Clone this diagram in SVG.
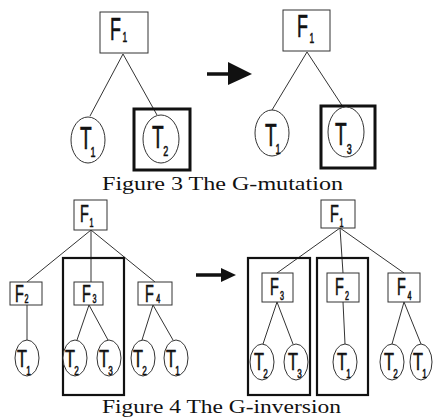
<svg xmlns="http://www.w3.org/2000/svg" width="435" height="419" viewBox="0 0 435 419">
<style>
.bg{fill:#fff}
.box{fill:#fff;stroke:#333;stroke-width:1}
.ell{fill:#fff;stroke:#333;stroke-width:1}
.bold{fill:none;stroke:#111;stroke-width:3}
.bold2{fill:none;stroke:#111;stroke-width:2.2}
.ln{stroke:#333;stroke-width:1;fill:none}
.arr{stroke:#111;stroke-width:3.5}
.lb{font-family:"Liberation Sans",Arial,sans-serif;fill:#111;stroke:#111;stroke-width:0.6}
.big{font-size:32px}
.sm{font-size:24px}
.s1{font-size:15px}
.s2{font-size:12px}
.cap{font-family:"Liberation Serif","Times New Roman",serif;font-size:18.5px;fill:#111}
</style>
<rect class="bg" width="435" height="419"/>
<g id="connectors">
<line class="ln" x1="123" y1="54" x2="90" y2="116"/>
<line class="ln" x1="123" y1="54" x2="157" y2="115"/>
<line class="ln" x1="307" y1="52" x2="272" y2="110"/>
<line class="ln" x1="307" y1="52" x2="343" y2="107"/>
<line class="ln" x1="91" y1="230" x2="27" y2="282"/>
<line class="ln" x1="91" y1="230" x2="91" y2="282"/>
<line class="ln" x1="91" y1="230" x2="155" y2="282"/>
<line class="ln" x1="27" y1="305" x2="27" y2="340"/>
<line class="ln" x1="89" y1="305" x2="77" y2="340"/>
<line class="ln" x1="89" y1="305" x2="108" y2="340"/>
<line class="ln" x1="153" y1="305" x2="142" y2="340"/>
<line class="ln" x1="153" y1="305" x2="173" y2="340"/>
<line class="ln" x1="340" y1="228" x2="277" y2="273"/>
<line class="ln" x1="340" y1="228" x2="343" y2="273"/>
<line class="ln" x1="340" y1="228" x2="404" y2="273"/>
<line class="ln" x1="277" y1="302" x2="263" y2="344"/>
<line class="ln" x1="277" y1="302" x2="293" y2="344"/>
<line class="ln" x1="343" y1="302" x2="345" y2="344"/>
<line class="ln" x1="404" y1="302" x2="392" y2="344"/>
<line class="ln" x1="404" y1="302" x2="421" y2="344"/>
<line class="arr" x1="207" y1="74" x2="232" y2="74"/>
<polygon points="228,62 252,74 228,85" fill="#111"/>
<line class="arr" x1="196" y1="275" x2="225" y2="275"/>
<polygon points="221,268 236,275 221,282" fill="#111"/>
</g>
<g id="fig3-left">
<g id="f3l-F1"><rect class="box" x="100" y="12" width="48" height="41"/>
<text class="lb big" transform="translate(110,40) scale(0.56,1)">F<tspan class="s1" dx="3" dy="2">1</tspan></text></g>
<g id="f3l-T1"><ellipse class="ell" cx="88" cy="140" rx="17" ry="23"/>
<text class="lb big" transform="translate(80,149) scale(0.6,1)">T<tspan class="s1" dx="-2" dy="8">1</tspan></text></g>
<g id="f3l-T2"><rect class="bold" x="134" y="109" width="56" height="61"/>
<ellipse class="ell" cx="161" cy="139" rx="18" ry="24"/>
<text class="lb big" transform="translate(152,148) scale(0.6,1)">T<tspan class="s1" dx="-1" dy="8">2</tspan></text></g>
</g>
<g id="fig3-right">
<g id="f3r-F1"><rect class="box" x="283" y="10" width="47" height="41"/>
<text class="lb big" transform="translate(297,37) scale(0.56,1)">F<tspan class="s1" dx="3" dy="6">1</tspan></text></g>
<g id="f3r-T1"><ellipse class="ell" cx="272" cy="133" rx="17" ry="23"/>
<text class="lb big" transform="translate(265,146) scale(0.6,1)">T<tspan class="s1" dx="-2" dy="8">1</tspan></text></g>
<g id="f3r-T3"><rect class="bold" x="321" y="106" width="54" height="62"/>
<ellipse class="ell" cx="346" cy="132" rx="18" ry="25"/>
<text class="lb big" transform="translate(335,145) scale(0.6,1)">T<tspan class="s1" dx="0" dy="9">3</tspan></text></g>
</g>
<text class="cap" x="102" y="190" textLength="241" lengthAdjust="spacingAndGlyphs">Figure 3 The G-mutation</text>
<g id="fig4-left">
<g id="f4l-F1"><rect class="box" x="74" y="200" width="33" height="30"/>
<text class="lb sm" transform="translate(80,222) scale(0.6,1)">F<tspan class="s2" dx="1" dy="5">1</tspan></text></g>
<g id="f4l-F2"><rect class="box" x="10" y="282" width="32" height="23"/>
<text class="lb sm" transform="translate(15,302) scale(0.6,1)">F<tspan class="s2" dx="1" dy="1">2</tspan></text></g>
<g id="f4l-F3bold"><rect class="bold2" x="63" y="258" width="61" height="137"/></g>
<g id="f4l-F3"><rect class="box" x="74" y="282" width="29" height="23"/>
<text class="lb sm" transform="translate(82,302) scale(0.6,1)">F<tspan class="s2" dx="3" dy="1">3</tspan></text></g>
<g id="f4l-F4"><rect class="box" x="138" y="282" width="34" height="23"/>
<text class="lb sm" transform="translate(145,302) scale(0.6,1)">F<tspan class="s2" dx="4" dy="1">4</tspan></text></g>
<g id="f4l-T1a"><ellipse class="ell" cx="27" cy="358" rx="12" ry="18"/>
<text class="lb sm" transform="translate(17,367) scale(0.68,1)">T<tspan class="s2" dx="-1" dy="8">1</tspan></text></g>
<g id="f4l-T2a"><ellipse class="ell" cx="75" cy="358" rx="12" ry="18"/>
<text class="lb sm" transform="translate(65,367) scale(0.68,1)">T<tspan class="s2" dx="-1" dy="8">2</tspan></text></g>
<g id="f4l-T3"><ellipse class="ell" cx="109" cy="358" rx="12" ry="18"/>
<text class="lb sm" transform="translate(99,367) scale(0.68,1)">T<tspan class="s2" dx="-1" dy="8">3</tspan></text></g>
<g id="f4l-T2b"><ellipse class="ell" cx="143" cy="358" rx="12" ry="18"/>
<text class="lb sm" transform="translate(133,367) scale(0.68,1)">T<tspan class="s2" dx="-1" dy="8">2</tspan></text></g>
<g id="f4l-T1b"><ellipse class="ell" cx="176" cy="358" rx="12" ry="18"/>
<text class="lb sm" transform="translate(166,367) scale(0.68,1)">T<tspan class="s2" dx="-1" dy="8">1</tspan></text></g>
</g>
<g id="fig4-right">
<g id="f4r-F1"><rect class="box" x="321" y="200" width="34" height="28"/>
<text class="lb sm" transform="translate(330,222) scale(0.6,1)">F<tspan class="s2" dx="1" dy="5">1</tspan></text></g>
<g id="f4r-bold1"><rect class="bold2" x="248" y="258" width="62" height="137"/></g>
<g id="f4r-bold2"><rect class="bold2" x="317" y="258" width="51" height="137"/></g>
<g id="f4r-F3"><rect class="box" x="262" y="273" width="31" height="29"/>
<text class="lb sm" transform="translate(270,295) scale(0.6,1)">F<tspan class="s2" dx="2" dy="5">3</tspan></text></g>
<g id="f4r-F2"><rect class="box" x="327" y="273" width="32" height="29"/>
<text class="lb sm" transform="translate(335,295) scale(0.6,1)">F<tspan class="s2" dx="2" dy="5">2</tspan></text></g>
<g id="f4r-F4"><rect class="box" x="388" y="273" width="32" height="29"/>
<text class="lb sm" transform="translate(397,295) scale(0.6,1)">F<tspan class="s2" dx="3" dy="5">4</tspan></text></g>
<g id="f4r-T2a"><ellipse class="ell" cx="262" cy="362" rx="12" ry="18"/>
<text class="lb sm" transform="translate(254,370) scale(0.68,1)">T<tspan class="s2" dx="-1" dy="8">2</tspan></text></g>
<g id="f4r-T3"><ellipse class="ell" cx="296" cy="362" rx="12" ry="18"/>
<text class="lb sm" transform="translate(288,370) scale(0.68,1)">T<tspan class="s2" dx="-1" dy="8">3</tspan></text></g>
<g id="f4r-T1a"><ellipse class="ell" cx="345" cy="362" rx="12" ry="18"/>
<text class="lb sm" transform="translate(337,370) scale(0.68,1)">T<tspan class="s2" dx="-1" dy="8">1</tspan></text></g>
<g id="f4r-T2b"><ellipse class="ell" cx="392" cy="362" rx="12" ry="18"/>
<text class="lb sm" transform="translate(384,370) scale(0.68,1)">T<tspan class="s2" dx="-1" dy="8">2</tspan></text></g>
<g id="f4r-T1b"><ellipse class="ell" cx="421" cy="362" rx="11" ry="18"/>
<text class="lb sm" transform="translate(413,370) scale(0.68,1)">T<tspan class="s2" dx="-1" dy="8">1</tspan></text></g>
</g>
<text class="cap" x="102" y="413" textLength="239" lengthAdjust="spacingAndGlyphs">Figure 4 The G-inversion</text>
</svg>
